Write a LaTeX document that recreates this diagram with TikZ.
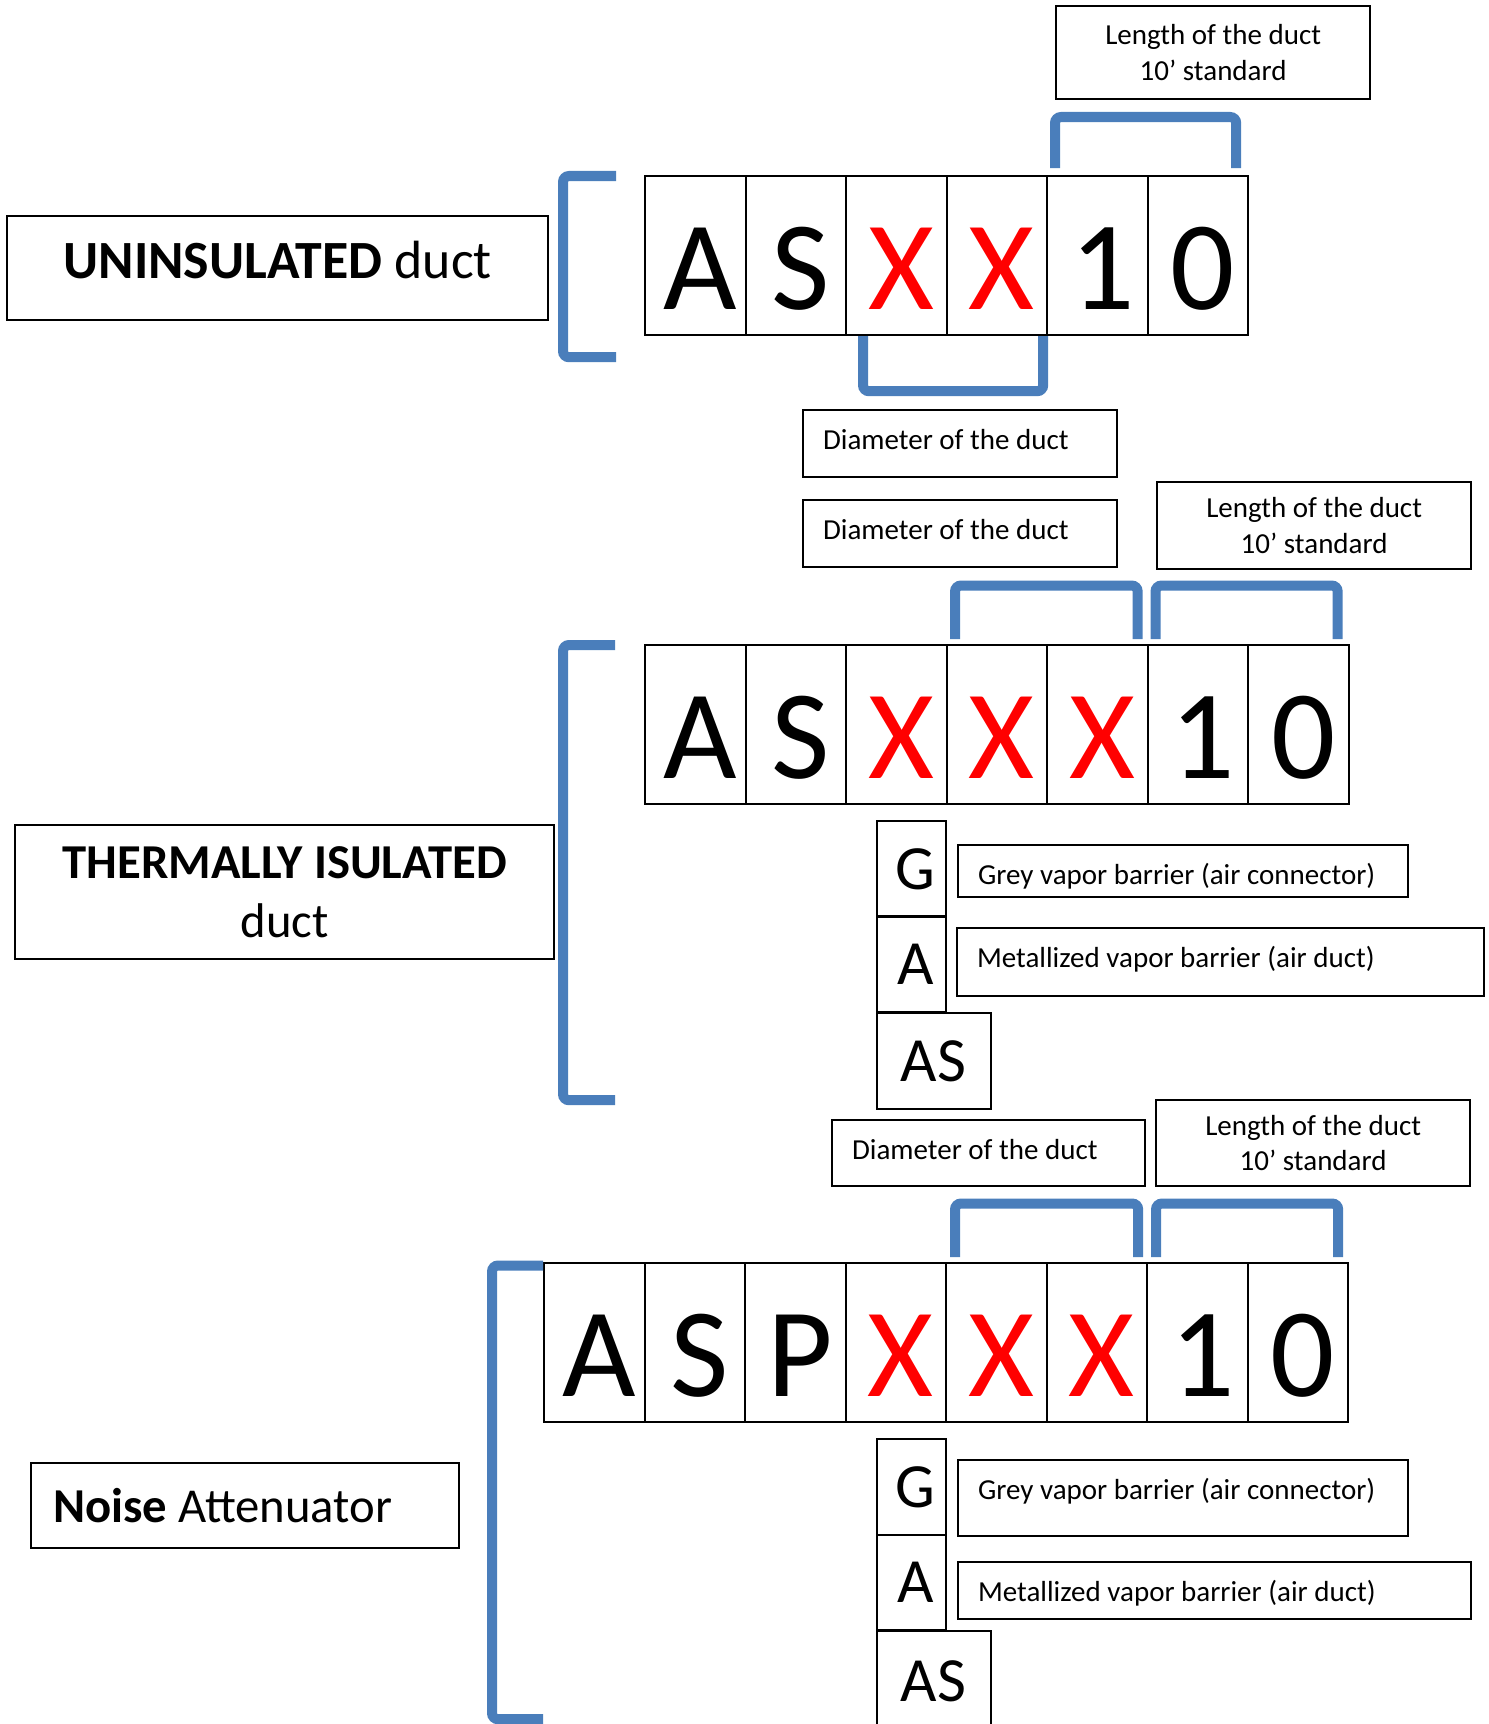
\documentclass[tikz,border=0pt]{standalone}
\usepackage{fontspec}
\setmainfont{Carlito}
\usepackage{tikz}
\usetikzlibrary{calc}

\definecolor{ductblue}{RGB}{74,126,187}
\newcommand\cellfont{\fontsize{36.1}{44}\selectfont}
\newcommand\tagfont{\fontsize{17.9}{21.5}\selectfont}
\newcommand\notefont{\fontsize{8.25}{10.1}\selectfont}

\tikzset{
        cellbox/.style={draw, line width=0.6pt, anchor=north west, inner sep=0pt, minimum width=1.005cm,
                minimum height=1.59cm, text height=1.08cm, text depth=0pt, font=\cellfont,
                execute at begin node={\hspace*{0.1cm}}},
        tagbox/.style={draw, line width=0.6pt, anchor=north west, inner sep=0pt, minimum width=0.695cm,
                minimum height=0.955cm, font=\tagfont, execute at begin node={\hspace*{0.08cm}}},
        widetag/.style={tagbox, minimum width=1.14cm, execute at begin node={\hspace*{-0.08cm}}},
        notebox/.style={draw, line width=0.6pt, anchor=north west, inner xsep=0.2cm, inner ysep=0pt,
                text height=0.39cm, align=left, font=\notefont,
                execute at begin node={\spaceskip=0pt\xspaceskip=0pt}},
        lenbox/.style={draw, line width=0.6pt, anchor=north west, align=center, inner sep=0pt,
                minimum width=3.14cm, font=\notefont},
        headbox/.style={draw, line width=0.6pt, anchor=north west, align=center, inner sep=0pt},
        brk/.style={draw=ductblue, line width=0.1cm, rounded corners=0.06cm}
}

\begin{document}
\begin{tikzpicture}[x=0.01cm, y=-0.01cm]
        \useasboundingbox (0,0) rectangle (1489,1724);
        \clip (0,0) rectangle (1489,1724);

        \node[headbox, minimum width=5.41cm, minimum height=1.04cm, text height=0.37cm, text depth=0.17cm,
                font=\fontsize{15.3}{18.5}\selectfont] (unins) at (6,215) {{\bfseries UNINSULATED} duct};
        \foreach \letter/\col [count=\i] in {A/black,S/black,X/red,X/red,1/black,0/black}
            \node[cellbox, text=\col] (u\i) at ({644+(\i-1)*100.5},175) {\letter};
        \draw[brk] ($(u1.north west)+(-28,1)$) -| ($(u1.south west)+(-81,21)$) -- ++(53,0);
        \draw[brk] ($(u5.north west)+(9,-7)$) |- ($(u6.north east)+(-13,-58)$) -- ++(0,51);
        \draw[brk] ($(u3.south west)+(18,0)$) |- ($(u4.south east)+(-5,55)$) -- ++(0,-55);
        \node[lenbox, minimum height=0.93cm] (len1) at (1055,5) {Length of the duct\\10’ standard};
        \node[notebox, text width=2.74cm, text depth=0.28cm] (dia1) at (802,409) {Diameter of the duct};

        \node[notebox, text width=2.74cm, text depth=0.28cm] (dia2) at (802,499) {Diameter of the duct};
        \node[lenbox, minimum height=0.87cm] (len2) at (1156,481) {Length of the duct\\10’ standard};
        \foreach \letter/\col [count=\i] in {A/black,S/black,X/red,X/red,X/red,1/black,0/black}
            \node[cellbox, text=\col] (t\i) at ({644+(\i-1)*100.5},644) {\letter};
        \draw[brk] ($(t1.north west)+(-29,1)$) -| ($(t1.south west)+(-81,295)$) -- ++(52,0);
        \draw[brk] ($(t4.north west)+(9.5,-5)$) |- ($(t5.north east)+(-11,-58.5)$) -- ++(0,53.5);
        \draw[brk] ($(t6.north west)+(9,-5)$) |- ($(t7.north east)+(-12,-58.5)$) -- ++(0,53.5);
        \node[headbox, minimum width=5.39cm, minimum height=1.34cm, font=\fontsize{13.85}{16.7}\selectfont]
                (therm) at (14,824) {{\bfseries THERMALLY ISULATED}\\duct};
        \node[tagbox] (g2) at (875.5,820) {G};
        \node[tagbox] (a2) at (875.5,915) {A};
        \node[widetag] (as2) at (875.5,1012) {AS};
        \node[notebox, text width=4.10cm, text depth=0.13cm] (grey2) at (957,844) {Grey vapor barrier (air connector)};
        \node[notebox, text width=4.87cm, text depth=0.29cm] (met2) at (956,927) {Metallized vapor barrier (air duct)};

        \node[notebox, text width=2.73cm, text depth=0.27cm] (dia3) at (831,1119) {Diameter of the duct};
        \node[lenbox, minimum height=0.86cm] (len3) at (1155,1099) {Length of the duct\\10’ standard};
        \foreach \letter/\col [count=\i] in {A/black,S/black,P/black,X/red,X/red,X/red,1/black,0/black}
            \node[cellbox, text=\col] (n\i) at ({543+(\i-1)*100.5},1262) {\letter};
        \draw[brk] ($(n1.north west)+(0,3.5)$) -| ($(n1.south west)+(-51,296)$) -- ++(51,0);
        \draw[brk] ($(n5.north west)+(10,-5)$) |- ($(n6.north east)+(-10,-58.5)$) -- ++(0,53.5);
        \draw[brk] ($(n7.north west)+(10,-5)$) |- ($(n8.north east)+(-11,-58.5)$) -- ++(0,53.5);
        \node[headbox, minimum width=4.28cm, minimum height=0.85cm, align=left, text width=3.84cm,
                inner xsep=0.22cm, font=\fontsize{13.85}{16.7}\selectfont,
                execute at begin node={\spaceskip=0pt\xspaceskip=0pt}] (noise) at (30,1462) {{\bfseries Noise} Attenuator};
        \node[tagbox] (g3) at (875.5,1438) {G};
        \node[tagbox] (a3) at (875.5,1533.5) {A};
        \node[widetag, minimum height=1.0cm] (as3) at (875.5,1630) {AS};
        \node[notebox, text width=4.10cm, text depth=0.37cm] (grey3) at (957,1459) {Grey vapor barrier (air connector)};
        \node[notebox, text width=4.73cm, text depth=0.18cm] (met3) at (957,1561) {Metallized vapor barrier (air duct)};
\end{tikzpicture}
\end{document}
